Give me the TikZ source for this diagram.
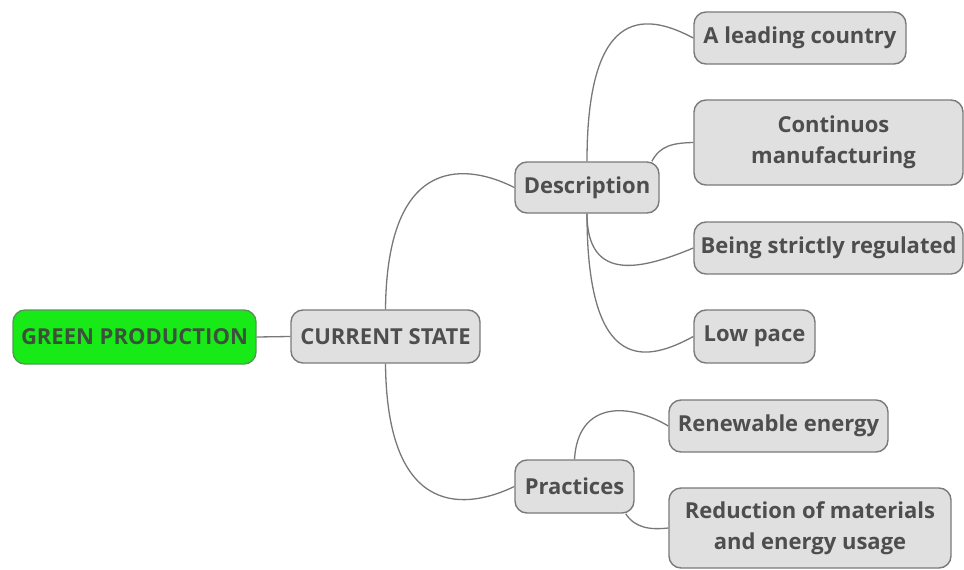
\documentclass[tikz,border=0pt]{standalone}
\usepackage{fontspec}
\setmainfont{Open Sans}[BoldFont={* Bold}]
\begin{document}
\definecolor{boxfill}{RGB}{224,224,224}
\definecolor{boxline}{RGB}{122,122,122}
\definecolor{rootfill}{RGB}{24,234,24}
\definecolor{rootline}{RGB}{88,150,88}
\definecolor{labeltext}{RGB}{78,78,78}
\definecolor{linkcol}{RGB}{120,120,120}
\begin{tikzpicture}[x=1pt,y=-1pt,
  topic/.style={draw=boxline, fill=boxfill, line width=1.4pt, rounded corners=12pt,
    inner sep=0pt, text=labeltext, font=\fontsize{22}{31}\selectfont\bfseries, align=center},
  roottopic/.style={topic, draw=rootline, fill=rootfill, text={rgb,255:red,60;green,80;blue,60}},
  link/.style={draw=linkcol, line width=1.3pt}]
\useasboundingbox (0,0) rectangle (964,570);

% topics: position = centre, size from minimum width/height
\node[roottopic, minimum width=243pt, minimum height=54pt] (gp) at (134.5,337) {GREEN PRODUCTION};
\node[topic, minimum width=189pt, minimum height=53pt] (cs) at (385.5,336.5) {CURRENT STATE};
\node[topic, minimum width=144pt, minimum height=51pt] (desc) at (587,187.5) {Description};
\node[topic, minimum width=119pt, minimum height=53pt] (prac) at (574.5,486.5) {Practices};
\node[topic, minimum width=212pt, minimum height=52pt] (lead) at (800,38) {A leading country};
\node[topic, minimum width=269pt, minimum height=85pt] (cont) at (828.5,142.5) {\hspace*{10pt}Continuos\\\hspace*{10pt}manufacturing};
\node[topic, minimum width=269pt, minimum height=52pt] (strict) at (828.5,248) {Being strictly regulated};
\node[topic, minimum width=121pt, minimum height=53pt] (low) at (754.5,336.5) {Low pace};
\node[topic, minimum width=219pt, minimum height=52pt] (renew) at (778.5,426) {Renewable energy};
\node[topic, minimum width=282pt, minimum height=80pt] (reduce) at (810,528) {Reduction of materials\\and energy usage};

% connectors
\draw[link] (gp.east) -- (cs.west);
\draw[link] (cs.north) .. controls (387,150) and (470,165) .. (desc.west);
\draw[link] (cs.south) .. controls (387,523) and (470,508) .. (prac.west);
\draw[link] (desc.north) .. controls (587,0) and (650,15) .. (lead.west);
\draw[link] (desc.22.7) .. controls (660,146) and (672,143) .. (cont.west);
\draw[link] (desc.south) .. controls (587,285) and (645,268) .. (strict.west);
\draw[link] (desc.south) .. controls (587,380) and (650,360) .. (low.west);
\draw[link] (prac.north) .. controls (578,400) and (630,403) .. (renew.west);
\draw[link] (prac.-28.6) .. controls (635,528) and (650,530) .. (reduce.west);
\end{tikzpicture}
\end{document}
